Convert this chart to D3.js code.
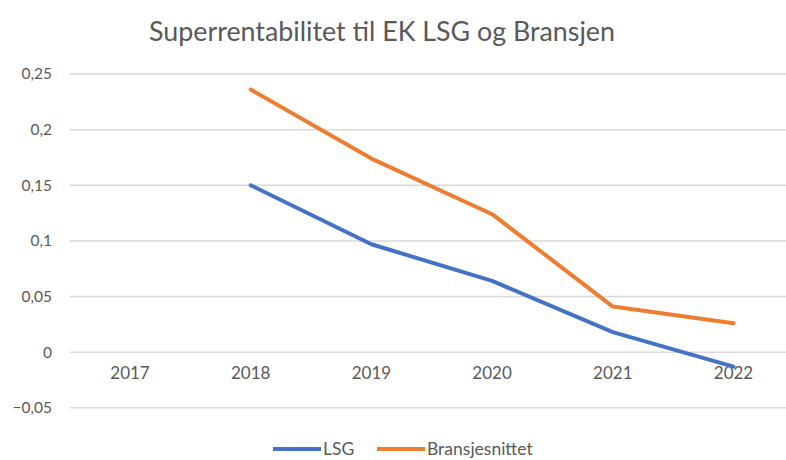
<!DOCTYPE html>
<html>
<head>
<meta charset="utf-8">
<script src="https://d3js.org/d3.v7.min.js"></script>
<style>
  body { margin: 0; background: white; }
  text { font-family: Lato, "Open Sans", sans-serif; }
</style>
</head>
<body>
<script>
  // data
  const years = ["2017", "2018", "2019", "2020", "2021", "2022"];
  const lsg = [null, 0.150, 0.097, 0.064, 0.018, -0.013];
  const bransje = [null, 0.236, 0.174, 0.124, 0.041, 0.026];
  const yTicks = [-0.05, 0, 0.05, 0.1, 0.15, 0.2, 0.25];

  const series = [
    { name: "LSG", values: lsg, color: "#4472C4" },
    { name: "Bransjesnittet", values: bransje, color: "#ED7D31" }
  ];

  const width = 786, height = 460;

  const svg = d3.select("body")
    .append("svg")
    .attr("width", width)
    .attr("height", height);

  svg.append("rect")
    .attr("width", width)
    .attr("height", height)
    .attr("fill", "white");

  // scales
  const x = d3.scalePoint()
    .domain(years)
    .range([130, 130 + 5 * 120.7]);

  const y = d3.scaleLinear()
    .domain([-0.05, 0.25])
    .range([407.8, 74]);

  const fmt = d => d3.format(",")(d).replace(".", ",");

  // gridlines
  svg.append("g")
    .selectAll("line")
    .data(yTicks)
    .join("line")
    .attr("x1", 70)
    .attr("x2", width)
    .attr("y1", d => y(d))
    .attr("y2", d => y(d))
    .attr("stroke", "#d9d9d9")
    .attr("stroke-width", 1.5);

  // y labels
  svg.append("g")
    .selectAll("text")
    .data(yTicks)
    .join("text")
    .attr("x", 52)
    .attr("y", d => y(d))
    .attr("dy", "0.35em")
    .attr("text-anchor", "end")
    .attr("fill", "#595959")
    .style("font-size", "15.5px")
    .text(d => fmt(d));

  // x labels, sitting just under the zero line
  svg.append("g")
    .selectAll("text")
    .data(years)
    .join("text")
    .attr("x", d => x(d))
    .attr("y", y(0) + 27)
    .attr("text-anchor", "middle")
    .attr("fill", "#595959")
    .style("font-size", "17px")
    .text(d => d);

  // lines
  const line = d3.line()
    .defined(d => d.v !== null)
    .x(d => x(d.year))
    .y(d => y(d.v));

  series.forEach(s => {
    const pts = years.map((yr, i) => ({ year: yr, v: s.values[i] }));
    svg.append("path")
      .attr("d", line(pts))
      .attr("fill", "none")
      .attr("stroke", s.color)
      .attr("stroke-width", 4)
      .attr("stroke-linejoin", "round")
      .attr("stroke-linecap", "round");
  });

  // title
  svg.append("text")
    .attr("x", 382)
    .attr("y", 41)
    .attr("text-anchor", "middle")
    .attr("fill", "#595959")
    .style("font-size", "26.8px")
    .text("Superrentabilitet til EK LSG og Bransjen");

  // legend
  const legendX = [273, 377];
  const legend = svg.append("g")
    .selectAll("g")
    .data(series)
    .join("g")
    .attr("transform", (d, i) => `translate(${legendX[i]}, 449)`);

  legend.append("line")
    .attr("x1", 0)
    .attr("x2", 48)
    .attr("stroke", d => d.color)
    .attr("stroke-width", 4);

  legend.append("text")
    .attr("x", 50)
    .attr("dy", "0.35em")
    .attr("fill", "#595959")
    .style("font-size", "17.5px")
    .text(d => d.name);
</script>
</body>
</html>
